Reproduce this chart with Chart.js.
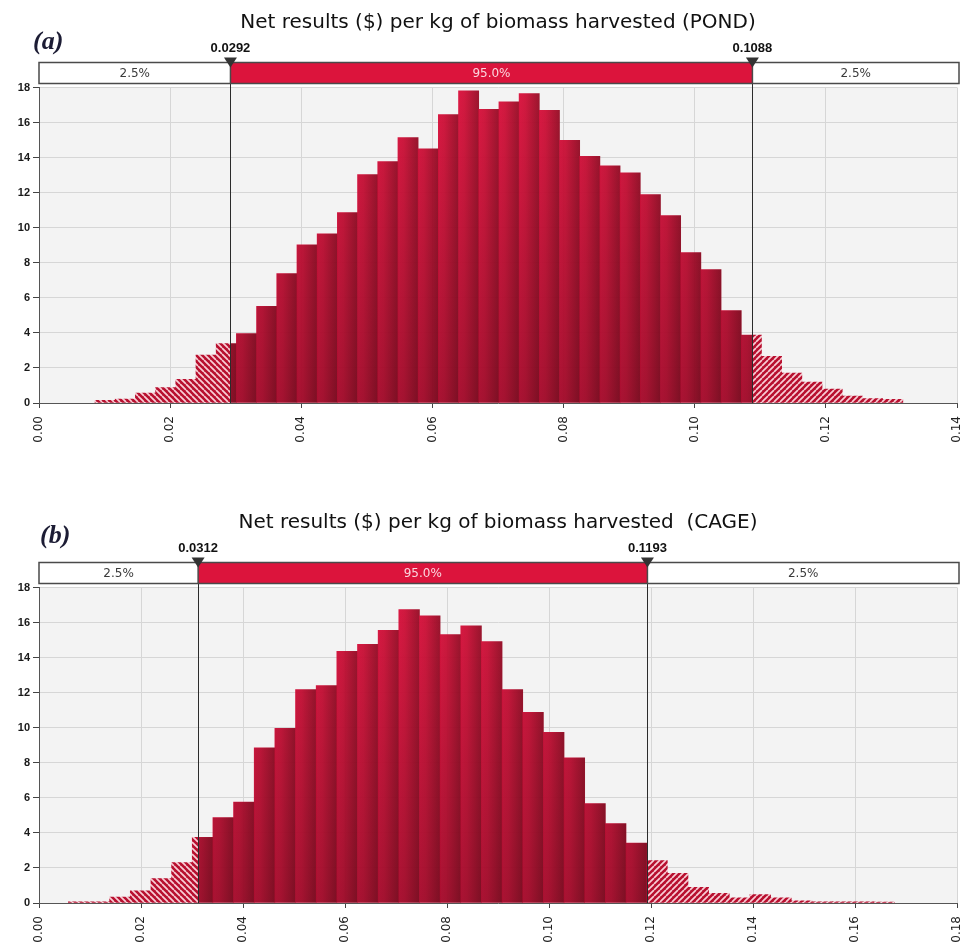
<!DOCTYPE html>
<html>
<head>
<meta charset="utf-8">
<script src="https://cdn.jsdelivr.net/npm/chart.js@4.4.1/dist/chart.umd.min.js"></script>
<style>
  body { margin: 0; background: #fff; }
  .panel { position: relative; width: 970px; height: 450px; }
  #panelB { margin-top: 50px; }
</style>
</head>
<body>
<div class="panel"><canvas id="pondChart"></canvas></div>
<div class="panel" id="panelB"><canvas id="cageChart"></canvas></div>
<script>
"use strict";
// ========== DATA ========== //
// (a) POND - 40 bins, density per bin
const pondBinStart = 0.00854;
const pondBinWidth = 0.00308;
const pondDensity = [
  0.15, 0.23, 0.57, 0.88, 1.35, 2.74, 3.39, 3.96, 5.52, 7.38,
  9.02, 9.65, 10.86, 13.03, 13.77, 15.14, 14.5, 16.46, 17.81, 16.76,
  17.18, 17.66, 16.7, 14.99, 14.08, 13.53, 13.13, 11.89, 10.69, 8.58,
  7.61, 5.27, 3.88, 2.66, 1.71, 1.2, 0.8, 0.4, 0.25, 0.21
];
const pondCuts = [0.0292, 0.1088];
const pondCutLabels = ['0.0292', '0.1088'];
const pondShares = ['2.5%', '95.0%', '2.5%'];
const pondXMax = 0.14;

// (b) CAGE
const cageBinStart = 0.00575;
const cageBinWidth = 0.00405;
const cageDensity = [
  0.06, 0.06, 0.34, 0.7, 1.39, 2.3, 3.75, 4.87, 5.76, 8.85,
  9.97, 12.18, 12.4, 14.36, 14.76, 15.56, 16.74, 16.38, 15.32, 15.81,
  14.92, 12.18, 10.88, 9.74, 8.28, 5.67, 4.53, 3.42, 2.42, 1.69,
  0.89, 0.55, 0.29, 0.48, 0.29, 0.13, 0.07, 0.06, 0.06, 0.05
];
const cageCuts = [0.0312, 0.1193];
const cageCutLabels = ['0.0312', '0.1193'];
const cageShares = ['2.5%', '95.0%', '2.5%'];
const cageXMax = 0.18;

const yMax = 18;
const yStep = 2;
const xStep = 0.02;

Chart.defaults.font.family = '"DejaVu Sans", sans-serif';

// hatch pattern for the tails ("\" on the left, "/" on the right)
function makeHatch(dir) {
  const size = 6;
  const cv = document.createElement('canvas');
  cv.width = size;
  cv.height = size;
  const g = cv.getContext('2d');
  g.fillStyle = '#b8102f';
  g.fillRect(0, 0, size, size);
  g.strokeStyle = 'rgba(255,226,232,0.9)';
  g.lineWidth = 1.7;
  g.beginPath();
  [-size, 0, size].forEach(x0 => {
    if (dir === 'left') {
      g.moveTo(x0, 0);
      g.lineTo(x0 + size, size);
    } else {
      g.moveTo(x0, size);
      g.lineTo(x0 + size, 0);
    }
  });
  g.stroke();
  return g.createPattern(cv, 'repeat');
}
const hatchLeft = makeHatch('left');
const hatchRight = makeHatch('right');

// bins -> {x, y} points at bin centres
function toPoints(binStart, binWidth, density) {
  return density.map((v, i) => ({ x: binStart + binWidth * (i + 0.5), y: v }));
}

// drawing of background, clipping, cut lines, header band and titles
const histDecor = {
  id: 'histDecor',
  beforeDraw(chart) {
    const { ctx, chartArea: a } = chart;
    ctx.save();
    ctx.fillStyle = '#f3f3f3';
    ctx.fillRect(a.left, a.top, a.right - a.left, a.bottom - a.top);
    ctx.restore();
  },
  beforeDatasetDraw(chart, args, opts) {
    const { ctx, chartArea: a, scales } = chart;
    const x1 = scales.x.getPixelForValue(opts.cuts[0]);
    const x2 = scales.x.getPixelForValue(opts.cuts[1]);
    ctx.save();
    ctx.beginPath();
    if (chart.data.datasets[args.index].region === 'center') {
      ctx.rect(x1, a.top - 2, x2 - x1, a.bottom - a.top + 4);
    } else {
      ctx.rect(a.left, a.top - 2, x1 - a.left, a.bottom - a.top + 4);
      ctx.rect(x2, a.top - 2, a.right - x2, a.bottom - a.top + 4);
    }
    ctx.clip();
  },
  afterDatasetDraw(chart) {
    chart.ctx.restore();
  },
  afterDatasetsDraw(chart, args, opts) {
    const { ctx, chartArea: a, scales } = chart;
    const x1 = scales.x.getPixelForValue(opts.cuts[0]);
    const x2 = scales.x.getPixelForValue(opts.cuts[1]);
    // darken solid bars towards the bottom
    const shade = ctx.createLinearGradient(0, a.top, 0, a.bottom);
    shade.addColorStop(0, 'rgba(40,0,8,0)');
    shade.addColorStop(1, 'rgba(40,0,8,0.28)');
    ctx.save();
    ctx.beginPath();
    ctx.rect(x1, a.top, x2 - x1, a.bottom - a.top);
    ctx.clip();
    ctx.fillStyle = shade;
    chart.getDatasetMeta(0).data.forEach(el => {
      const p = el.getProps(['x', 'y', 'base', 'width'], true);
      ctx.fillRect(p.x - p.width / 2, p.y, p.width, p.base - p.y);
    });
    ctx.restore();
    // cut lines
    ctx.save();
    ctx.strokeStyle = '#2b2b2b';
    ctx.lineWidth = 1;
    opts.cuts.forEach(c => {
      const x = Math.round(scales.x.getPixelForValue(c)) + 0.5;
      ctx.beginPath();
      ctx.moveTo(x, a.top - 4);
      ctx.lineTo(x, a.bottom);
      ctx.stroke();
    });
    ctx.restore();
  },
  afterDraw(chart, args, opts) {
    const { ctx, chartArea: a, scales } = chart;
    const x1 = scales.x.getPixelForValue(opts.cuts[0]);
    const x2 = scales.x.getPixelForValue(opts.cuts[1]);
    const top = a.top - 25;
    const bot = a.top - 4;
    const right = a.right + 2;
    ctx.save();

    // title
    ctx.fillStyle = '#111';
    ctx.font = '20px "DejaVu Sans", sans-serif';
    ctx.textAlign = 'center';
    ctx.textBaseline = 'alphabetic';
    ctx.fillText(opts.title, (a.left + a.right) / 2, 28);

    // panel tag
    ctx.font = 'italic bold 26px "Liberation Serif", serif';
    ctx.fillStyle = '#1c1c34';
    ctx.textAlign = 'left';
    ctx.fillText(opts.tag, opts.tagX, opts.tagY);

    // header band
    ctx.fillStyle = '#fff';
    ctx.fillRect(a.left, top, right - a.left, bot - top);
    ctx.fillStyle = '#dc143c';
    ctx.fillRect(x1, top, x2 - x1, bot - top);
    ctx.strokeStyle = '#4a4a4a';
    ctx.lineWidth = 1.5;
    ctx.strokeRect(a.left, top, right - a.left, bot - top);
    ctx.beginPath();
    ctx.moveTo(x1, top);
    ctx.lineTo(x1, bot);
    ctx.moveTo(x2, top);
    ctx.lineTo(x2, bot);
    ctx.stroke();

    ctx.font = '12px "DejaVu Sans", sans-serif';
    ctx.textAlign = 'center';
    ctx.textBaseline = 'middle';
    const mid = (top + bot) / 2 + 1;
    ctx.fillStyle = '#3a3a3a';
    ctx.fillText(opts.shares[0], (a.left + x1) / 2, mid);
    ctx.fillText(opts.shares[2], (x2 + right) / 2, mid);
    ctx.fillStyle = '#fbd6de';
    ctx.fillText(opts.shares[1], (x1 + x2) / 2, mid);

    // markers and values
    ctx.font = 'bold 13px "Liberation Sans", sans-serif';
    ctx.textBaseline = 'alphabetic';
    [x1, x2].forEach((x, i) => {
      ctx.fillStyle = '#333';
      ctx.beginPath();
      ctx.moveTo(x - 6.5, top - 5);
      ctx.lineTo(x + 6.5, top - 5);
      ctx.lineTo(x, top + 5);
      ctx.closePath();
      ctx.fill();
      ctx.fillStyle = '#111';
      ctx.fillText(opts.cutLabels[i], x, top - 11);
    });
    ctx.restore();
  }
};

function makeHistogram(canvasId, cfg) {
  const solidColor = c => {
    const chart = c.chart;
    if (!chart.chartArea || c.type !== 'data') return '#b8102f';
    const xs = chart.scales.x;
    const left = xs.getPixelForValue(c.raw.x - cfg.binWidth / 2);
    const right = xs.getPixelForValue(c.raw.x + cfg.binWidth / 2);
    const g = chart.ctx.createLinearGradient(left, 0, right, 0);
    g.addColorStop(0, 'rgba(218,14,58,0.95)');
    g.addColorStop(0.3, 'rgba(208,14,54,0.95)');
    g.addColorStop(1, 'rgba(152,10,36,0.95)');
    return g;
  };
  const mid = (cfg.cuts[0] + cfg.cuts[1]) / 2;

  return new Chart(document.getElementById(canvasId), {
    type: 'bar',
    data: {
      datasets: [
        {
          region: 'center',
          data: toPoints(cfg.binStart, cfg.binWidth, cfg.density),
          backgroundColor: solidColor,
          borderWidth: 0,
          barPercentage: 1,
          categoryPercentage: 1
        },
        {
          region: 'tails',
          data: toPoints(cfg.binStart, cfg.binWidth, cfg.density),
          backgroundColor: c => (c.raw && c.raw.x > mid ? hatchRight : hatchLeft),
          borderWidth: 0,
          barPercentage: 1,
          categoryPercentage: 1
        }
      ]
    },
    options: {
      responsive: true,
      maintainAspectRatio: false,
      animation: false,
      events: [],
      grouped: false,
      layout: { padding: { top: 87.5, right: 13, left: 0, bottom: 0 } },
      scales: {
        x: {
          type: 'linear',
          min: 0,
          max: cfg.xMax,
          offset: false,
          afterFit: s => {
            s.height = 47;
            s.paddingLeft = 0;
            s.paddingRight = 0;
          },
          grid: { offset: false, color: '#d6d6d6', tickColor: '#444', tickLength: 5 },
          border: { color: '#555' },
          ticks: {
            stepSize: xStep,
            minRotation: 90,
            maxRotation: 90,
            padding: 8,
            color: '#222',
            font: { size: 12 },
            callback: v => v.toFixed(2)
          }
        },
        y: {
          min: 0,
          max: yMax,
          afterFit: s => { s.width = 39; },
          grid: { color: '#d6d6d6', tickColor: '#444', tickLength: 6 },
          border: { color: '#555' },
          ticks: {
            stepSize: yStep,
            padding: 3,
            color: '#1a1a1a',
            font: { family: '"Liberation Sans", sans-serif', size: 11, weight: 'bold' }
          }
        }
      },
      plugins: {
        legend: { display: false },
        tooltip: { enabled: false },
        histDecor: {
          cuts: cfg.cuts,
          cutLabels: cfg.cutLabels,
          shares: cfg.shares,
          title: cfg.title,
          tag: cfg.tag,
          tagX: cfg.tagX,
          tagY: cfg.tagY
        }
      }
    },
    plugins: [histDecor]
  });
}

makeHistogram('pondChart', {
  binStart: pondBinStart,
  binWidth: pondBinWidth,
  density: pondDensity,
  cuts: pondCuts,
  cutLabels: pondCutLabels,
  shares: pondShares,
  xMax: pondXMax,
  title: 'Net results ($) per kg of biomass harvested (POND)',
  tag: '(a)',
  tagX: 33,
  tagY: 49
});

makeHistogram('cageChart', {
  binStart: cageBinStart,
  binWidth: cageBinWidth,
  density: cageDensity,
  cuts: cageCuts,
  cutLabels: cageCutLabels,
  shares: cageShares,
  xMax: cageXMax,
  title: 'Net results ($) per kg of biomass harvested  (CAGE)',
  tag: '(b)',
  tagX: 40,
  tagY: 43
});
</script>
</body>
</html>
